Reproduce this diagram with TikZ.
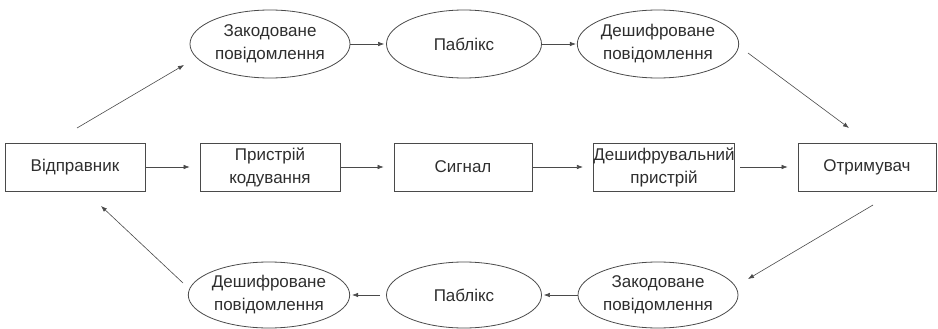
\documentclass[tikz,border=0pt]{standalone}
\usepackage{fontspec}
\setmainfont{Liberation Sans}
\usetikzlibrary{shapes.geometric,arrows.meta}
\definecolor{ln}{HTML}{4A4A4A}
\definecolor{tx}{HTML}{2E2E2E}
\tikzset{
  base/.style={draw=ln,line width=0.8pt,text=tx,align=center,inner sep=0pt,
    font=\fontsize{17}{23}\selectfont},
  boxnode/.style={base,rectangle,minimum height=48pt},
  ellnode/.style={base,ellipse,minimum width=160pt,minimum height=68pt},
  conn/.style={draw=ln,line width=0.6pt,-{Latex[length=6pt,width=4.5pt]}},
}
\begin{document}
\begin{tikzpicture}[x=1pt,y=-1pt]
\useasboundingbox (0,0) rectangle (938,329);
% middle row
\node[boxnode,minimum width=140pt] (snd) at (75,167) {Відправник};
\node[boxnode,minimum width=140pt] (enc) at (270,167) {Пристрій\\кодування};
\node[boxnode,minimum width=138pt] (sig) at (463,167) {Сигнал};
\node[boxnode,minimum width=138pt] (dec) at (664,167) {Дешифрувальний\\пристрій};
\node[boxnode,minimum width=138pt] (rcv) at (867,167) {Отримувач};
% top row
\node[ellnode] (t1) at (270,44) {Закодоване\\повідомлення};
\node[ellnode,minimum width=155pt] (t2) at (464,44) {Паблікс};
\node[ellnode] (t3) at (658,44) {Дешифроване\\повідомлення};
% bottom row
\node[ellnode,minimum height=66pt] (b1) at (658,295) {Закодоване\\повідомлення};
\node[ellnode,minimum width=155pt,minimum height=66pt] (b2) at (464,295) {Паблікс};
\node[ellnode,minimum height=66pt] (b3) at (269,295) {Дешифроване\\повідомлення};
% free ends of diagonals
\coordinate (d1s) at (77,128);
\coordinate (d1e) at (184,65);
\coordinate (d2s) at (748,53);
\coordinate (d2e) at (849,128);
\coordinate (d3s) at (873,205);
\coordinate (d3e) at (748,279);
\coordinate (d4s) at (183,283);
\coordinate (d4e) at (101,206);
% connectors middle
\draw[conn,shorten >=10pt] (snd.east) -- (enc.west);
\draw[conn,shorten >=10pt] (enc.east) -- (sig.west);
\draw[conn,shorten >=10pt] (sig.east) -- (dec.west);
\draw[conn,shorten <=5pt,shorten >=10pt] (dec.east) -- (rcv.west);
% top
\draw[conn,shorten >=2pt] (t1.east) -- (t2.west);
\draw[conn,shorten >=1pt] (t2.east) -- (t3.west);
% bottom
\draw[conn,shorten >=2pt] (b1.west) -- (b2.east);
\draw[conn,shorten <=6pt,shorten >=2pt] (b2.west) -- (b3.east);
% diagonals
\draw[conn] (d1s) -- (d1e);
\draw[conn] (d2s) -- (d2e);
\draw[conn] (d3s) -- (d3e);
\draw[conn] (d4s) -- (d4e);
\end{tikzpicture}
\end{document}
